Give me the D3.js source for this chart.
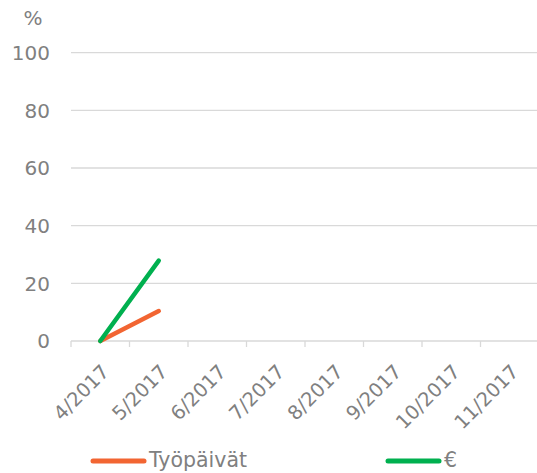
<!DOCTYPE html>
<html><head><meta charset="utf-8">
<script src="https://cdn.jsdelivr.net/npm/d3@7/dist/d3.min.js"></script>
<style>body{margin:0;background:#fff}svg{display:block}text{font-family:"DejaVu Sans",Verdana,sans-serif;fill:#808080}</style>
</head><body>
<svg id="c" width="537" height="473"></svg>
<script>
const categories = ["4/2017","5/2017","6/2017","7/2017","8/2017","9/2017","10/2017","11/2017"];
const tyopaivat = [0, 10.4];
const euro = [0, 27.9];
const yTicks = [0,20,40,60,80,100];
const seriesNames = ["Työpäivät","€"];
const colors = ["#F26532","#00B04F"];

(function(){
const svg = d3.select("#c");
const mL = 71, mR = 539, mT = 52.7, mB = 341;
const x = d3.scaleBand().domain(categories).range([mL, mR]);
const y = d3.scaleLinear().domain([0,100]).range([mB, mT]);
const fs = 20;

svg.append("g").selectAll("line").data(yTicks.filter(d=>d>0)).join("line")
  .attr("x1", mL).attr("x2", 537).attr("y1", d=>y(d)).attr("y2", d=>y(d))
  .attr("stroke","#d9d9d9").attr("stroke-width",1.3);
svg.append("g").selectAll("text").data(yTicks).join("text")
  .attr("x", 50).attr("y", d=>y(d)).attr("dy","0.36em").attr("text-anchor","end")
  .attr("font-size", fs).text(d=>d);
svg.append("text").attr("x", 33).attr("y", 18).attr("dy","0.36em").attr("text-anchor","middle")
  .attr("font-size", 20).text("%");
const xAxis = d3.axisBottom(x).tickSize(0).tickFormat("");
const gx = svg.append("g").attr("transform",`translate(0,${mB})`).call(xAxis);
gx.select(".domain").remove();
svg.append("line").attr("x1",mL).attr("x2",537).attr("y1",mB).attr("y2",mB)
  .attr("stroke","#d9d9d9").attr("stroke-width",1.3);
const bounds = categories.map(c=>x(c)).concat([x(categories[categories.length-1])+x.bandwidth()]);
svg.append("g").selectAll("line").data(bounds).join("line")
  .attr("x1",d=>d).attr("x2",d=>d).attr("y1",mB).attr("y2",mB+6)
  .attr("stroke","#d9d9d9").attr("stroke-width",1.3);
svg.append("g").selectAll("text").data(categories).join("text")
  .attr("transform", d=>`translate(${x(d)+x.bandwidth()/2+10},${mB+32}) rotate(-45)`)
  .attr("text-anchor","end").attr("font-size", 19.5).text(d=>d);

const line = d3.line().x((d,i)=>x(categories[i])+x.bandwidth()/2).y(d=>y(d));
[tyopaivat, euro].forEach((s,i)=>{
  svg.append("path").datum(s).attr("d", line).attr("fill","none")
    .attr("stroke", colors[i]).attr("stroke-width",4.5).attr("stroke-linecap","round");
});

const legX = [90, 385];
seriesNames.forEach((n,i)=>{
  svg.append("line").attr("x1",legX[i]+3).attr("x2",legX[i]+54).attr("y1",461).attr("y2",461)
    .attr("stroke",colors[i]).attr("stroke-width",5).attr("stroke-linecap","round");
  svg.append("text").attr("x",legX[i]+59).attr("y",460).attr("dy","0.36em").attr("font-size",20.5).text(n);
});
})();
</script>
</body></html>
